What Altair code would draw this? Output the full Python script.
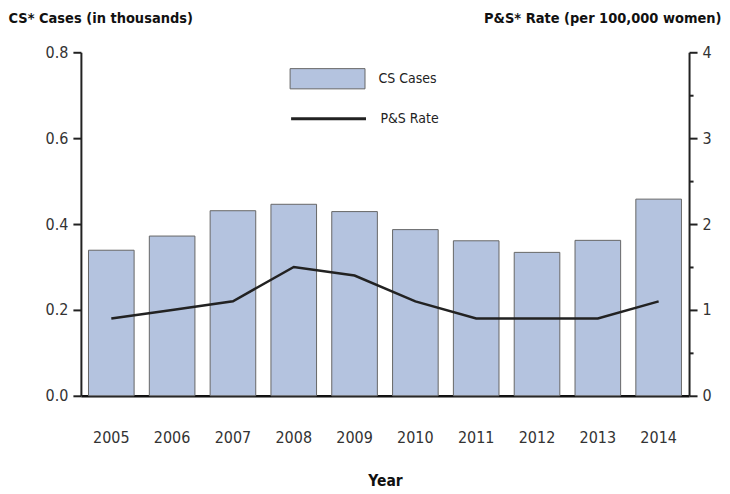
import altair as alt
import pandas as pd

years = ["2005", "2006", "2007", "2008", "2009", "2010", "2011", "2012", "2013", "2014"]
cs_cases = [0.339, 0.372, 0.431, 0.446, 0.429, 0.387, 0.361, 0.334, 0.362, 0.458]
ps_rate = [0.9, 1.0, 1.1, 1.5, 1.4, 1.1, 0.9, 0.9, 0.9, 1.1]

df = pd.DataFrame({
    "Year": years,
    "cases": cs_cases,
    "rate": ps_rate,
    "bar_series": ["CS Cases"] * len(years),
    "line_series": ["P&S Rate"] * len(years),
})

FONT = "'DejaVu Sans Condensed', 'Roboto Condensed', 'Liberation Sans Narrow', Roboto, sans-serif"
xscale = alt.Scale(paddingInner=0.25, paddingOuter=0.125)

xaxis = alt.Axis(
    title="Year", labelAngle=0, ticks=False, domainColor="#111", domainWidth=2.5,
    labelFont=FONT, labelFontSize=16, labelColor="#333", labelPadding=34,
    titleFont=FONT, titleFontSize=15.5, titleFontWeight="bold", titleColor="#111",
    titlePadding=28,
)

bars = alt.Chart(df).mark_bar(stroke="#666", strokeWidth=1).encode(
    x=alt.X("Year:N", scale=xscale, axis=xaxis),
    y=alt.Y("cases:Q", scale=alt.Scale(domain=[0, 0.8]),
            axis=alt.Axis(
                title="CS* Cases (in thousands)", values=[0, 0.2, 0.4, 0.6, 0.8], format=".1f",
                grid=False, domainColor="#222", domainWidth=2, tickColor="#222", tickWidth=2,
                tickSize=8, labelFont=FONT, labelFontSize=16, labelColor="#333", labelPadding=5,
                titleFont=FONT, titleFontSize=14.5, titleFontWeight="bold", titleColor="#111",
                titleAngle=0, titleAlign="left", titleBaseline="middle", titleX=-73, titleY=-34,
            )),
    fill=alt.Fill("bar_series:N", scale=alt.Scale(range=["#b4c3df"]),
                  legend=alt.Legend(
                      title=None, orient="none", legendX=209, legendY=-11.5,
                      symbolType="M-1,-0.27H1V0.27H-1Z", symbolSize=5625,
                      symbolStrokeColor="#666", symbolStrokeWidth=1, symbolOpacity=1,
                      labelFont=FONT, labelFontSize=14, labelColor="#222", labelOffset=13,
                      padding=0,
                  )),
)

line = alt.Chart(df).mark_line(strokeWidth=2.5).encode(
    x=alt.X("Year:N", scale=xscale, axis=xaxis),
    y=alt.Y("rate:Q", scale=alt.Scale(domain=[0, 4]),
            axis=alt.Axis(
                title="P&S* Rate (per 100,000 women)", values=[0, 0.5, 1, 1.5, 2, 2.5, 3, 3.5, 4],
                labelExpr="datum.value % 1 === 0 ? format(datum.value, 'd') : ''",
                tickSize={"condition": {"test": "datum.value % 1 === 0", "value": 8}, "value": 4},
                grid=False, domainColor="#222", domainWidth=2, tickColor="#222", tickWidth=2,
                labelFont=FONT, labelFontSize=16, labelColor="#333", labelPadding=5,
                titleFont=FONT, titleFontSize=14.5, titleFontWeight="bold", titleColor="#111",
                titleAngle=0, titleAlign="right", titleBaseline="middle", titleX=32, titleY=-34,
            )),
    stroke=alt.Stroke("line_series:N", scale=alt.Scale(range=["#222222"]),
                      legend=alt.Legend(
                          title=None, orient="none", legendX=209, legendY=27.5,
                          symbolType="stroke", symbolSize=5625, symbolStrokeWidth=3,
                          labelFont=FONT, labelFontSize=14, labelColor="#222", labelOffset=13,
                          padding=0,
                      )),
)

chart = alt.layer(bars, line).resolve_scale(y="independent").properties(
    width=609, height=344,
    autosize=alt.AutoSizeParams(type="none"),
    padding={"left": 73, "top": 44, "right": 33, "bottom": 96},
    background="white",
).configure_view(stroke=None)

chart.save("out.html", embed_options={"renderer": "svg", "actions": False})
